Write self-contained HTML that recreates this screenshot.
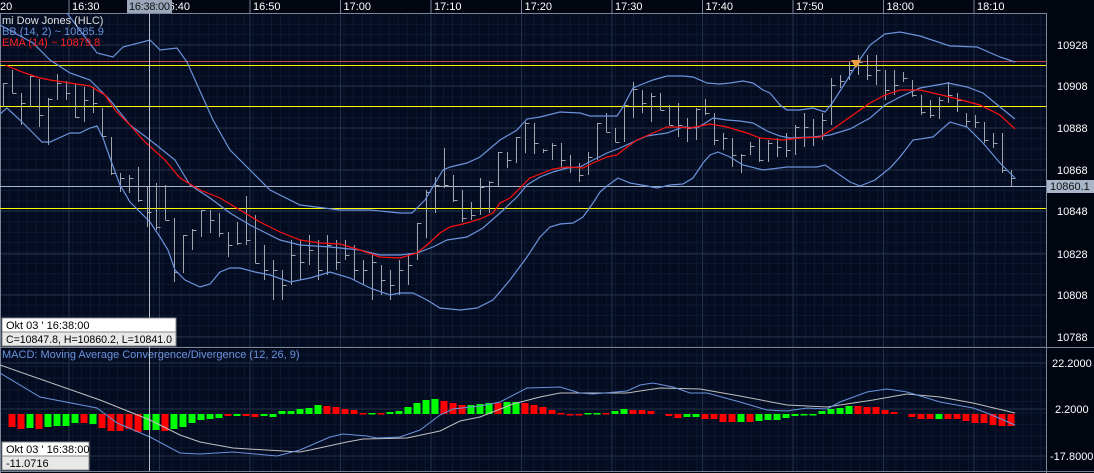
<!DOCTYPE html>
<html><head><meta charset="utf-8"><style>
html,body{margin:0;padding:0;background:#000;}
svg{display:block;font-family:"Liberation Sans",sans-serif;}
</style></head><body>
<svg id="s" width="1094" height="473" xmlns="http://www.w3.org/2000/svg">
<rect x="0" y="0" width="1094" height="473" fill="#000510"/>
<rect x="0" y="14" width="1046" height="333" fill="#030c20"/>
<rect x="0" y="349" width="1046" height="122" fill="#030c20"/>
<g id="grid"></g>
<g id="plot"></g>
</svg>
<script>
const NS="http://www.w3.org/2000/svg";
const S=document.getElementById('s'),G=document.getElementById('grid'),P=document.getElementById('plot');
function el(t,a,p,txt){if(typeof p==='string'){txt=p;p=null;}const e=document.createElementNS(NS,t);for(const k in a)e.setAttribute(k,a[k]);if(txt!==undefined)e.textContent=txt;(p||P).appendChild(e);return e;}
for(let x=0;x<1046;x+=9.05){el('line',{x1:x,y1:14,x2:x,y2:347,stroke:'#0e1830','stroke-width':1},G);el('line',{x1:x,y1:349,x2:x,y2:471,stroke:'#0e1830','stroke-width':1},G);}
for(let y=24.2;y<347;y+=10.4){el('line',{x1:0,y1:y,x2:1046,y2:y,stroke:'#0e1830'},G);}
for(let y=355;y<471;y+=11.6){el('line',{x1:0,y1:y,x2:1046,y2:y,stroke:'#0e1830'},G);}
const vmaj=[];for(let k=-1;k<12;k++)vmaj.push(69+90.5*k);
vmaj.forEach(x=>{if(x>0&&x<1046){el('line',{x1:x,y1:14,x2:x,y2:347,stroke:'#253149'},G);el('line',{x1:x,y1:349,x2:x,y2:471,stroke:'#253149'},G);}});
[45,86,128,170,211,254,295,337].forEach(y=>el('line',{x1:0,y1:y,x2:1046,y2:y,stroke:'#253149'},G));
[363,409,456].forEach(y=>el('line',{x1:0,y1:y,x2:1046,y2:y,stroke:'#253149'},G));
el('line',{x1:0,y1:13.5,x2:1046,y2:13.5,stroke:'#7a8498'});
el('line',{x1:1046.5,y1:13,x2:1046.5,y2:473,stroke:'#7a8498'});
el('line',{x1:0,y1:347.5,x2:1094,y2:347.5,stroke:'#7a8498'});
el('line',{x1:0,y1:471.5,x2:1094,y2:471.5,stroke:'#7a8498'});
el('line',{x1:0.5,y1:13,x2:0.5,y2:473,stroke:'#7a8498'});
const tl=['16:30','16:40','16:50','17:00','17:10','17:20','17:30','17:40','17:50','18:00','18:10'];
el('text',{x:0,y:10,fill:'#fff','font-size':11},'20');
tl.forEach((t,i)=>{const x=69+90.5*i;el('line',{x1:x,y1:0,x2:x,y2:13,stroke:'#7a8498'});el('text',{x:x+3,y:10,fill:'#fff','font-size':11},t);});
el('rect',{x:127,y:0,width:45,height:13,fill:'#9aa6ba'});
el('text',{x:129,y:10,fill:'#111','font-size':11,textLength:41},'16:38:00');
[['10928',45],['10908',86],['10888',128],['10868',170],['10848',211],['10828',254],['10808',295],['10788',337]].forEach(a=>el('text',{x:1057,y:a[1]+4,fill:'#fff','font-size':11},a[0]));
[['22.2000',363,1052],['2.2000',409,1055],['-17.8000',456,1050]].forEach(a=>el('text',{x:a[2],y:a[1]+4,fill:'#fff','font-size':11},a[0]));
el('line',{x1:0,y1:61.5,x2:1046,y2:61.5,stroke:'#c04848'});
el('line',{x1:0,y1:65.5,x2:1046,y2:65.5,stroke:'#ffff00'});
el('line',{x1:0,y1:106.5,x2:1046,y2:106.5,stroke:'#ffff00'});
el('line',{x1:0,y1:208.5,x2:1046,y2:208.5,stroke:'#ffff00'});
el('line',{x1:0,y1:186.5,x2:1046,y2:186.5,stroke:'#a8b4c8'});
const B=[[83,107,83],[70,93,93],[93,125,103],[76,107,76],[79,127,115],[98,145,99],[74,100,83],[81,100,93],[84,118,117],[87,122,100],[87,113,103],[108,137,136],[137,175,173],[173,192,178],[175,193,178],[167,202,200],[187,227,212],[183,230,227],[185,220,220],[218,282,272],[235,273,235],[229,250,230],[210,237,210],[210,233,220],[213,237,233],[232,257,245],[222,245,243],[196,245,240],[215,263,263],
[245,280,270],[260,300,270],[270,300,285],[240,285,255],[240,280,262],[235,265,250],[240,280,270],[235,275,245],[240,270,262],[240,260,255],[245,280,270],[260,285,270],[255,300,262],[265,295,280],[270,300,285],[260,295,270],
[253,285,265],[223,260,223],[190,238,192],[177,213,185],[148,188,185],[175,202,200],[190,222,218],[202,220,215],[178,215,187],[181,213,182],[152,187,152],[152,168,160],[137,163,137],[122,153,123],[123,154,143],[149,153,150],[143,160,145],[143,167,160],[155,173,167],[163,182,175],[152,175,157],[123,160,123],[113,132,132],[128,142,142],[103,142,105],[82,118,89],[90,113,103],[93,122,96],[93,110,110],[105,125,125],[103,137,125],[118,142,128],[108,140,109],[99,115,113],[113,145,140],[133,150,138],[138,167,155],[154,173,155],[142,155,146],[138,162,160],[140,162,143],[138,157,147],[133,157,150],[125,155,127],[113,147,127],[119,146,137],[113,140,120],[78,125,85],[75,88,81],[62,80,70],[55,75,62],[55,80,75],[55,85,70],[70,100,90],[70,95,85],
[72,82,78],[80,97,95],[95,115,112],[100,118,115],[97,119,100],[82,103,95],[93,112,100],[113,127,121],[115,128,122],[122,143,140],[133,148,143],[133,173,170],[170,186,178]];
B.forEach((b,i)=>{const x=3+9*i+0.5;el('line',{x1:x,y1:b[0],x2:x,y2:b[1],stroke:'#a0a4ac'});el('line',{x1:x,y1:b[2]+0.5,x2:x+4,y2:b[2]+0.5,stroke:'#a0a4ac'});});
function pl(pts,c,w,p){el('polyline',{points:pts.map(a=>a.join(',')).join(' '),fill:'none',stroke:c,'stroke-width':w||1.2},p);}
const blue='#6c93dd';
pl([[67,13],[97,53],[113,57],[123,47],[150,40],[160,50],[177,48],[187,62],[213,120],[230,150],[250,170],[270,190],[300,205],[340,210],[370,210],[400,213],[412,213],[425,200],[443,170],[450,167],[467,163],[480,157],[500,140],[517,130],[527,119],[540,117],[560,112],[580,113],[590,116],[617,116],[623,107],[633,88],[640,85],[653,80],[667,76],[683,76],[693,77],[707,83],[720,84],[730,83],[743,81],[753,83],[763,90],[770,93],[780,105],[787,110],[800,110],[813,108],[825,112],[833,102],[847,80],[858,62],[870,45],[885,34],[900,32],[920,36],[950,46],[977,47],[1000,57],[1015,62]],blue);
pl([[0,25],[33,43],[50,60],[70,73],[90,80],[110,100],[130,125],[150,140],[175,160],[190,185],[210,198],[230,213],[250,225],[260,230],[280,240],[300,245],[330,247],[360,250],[380,255],[400,255],[417,253],[433,247],[447,240],[467,237],[483,228],[500,213],[517,197],[527,185],[540,177],[553,172],[567,168],[580,167],[593,160],[607,153],[620,148],[633,142],[647,136],[667,133],[683,127],[697,128],[707,122],[713,118],[727,120],[740,121],[753,123],[767,131],[780,136],[790,138],[813,137],[830,135],[840,132],[850,129],[870,118],[885,105],[900,97],[920,88],[948,83],[967,87],[983,93],[1000,107],[1015,119]],blue);
pl([[0,114],[7,108],[20,120],[27,127],[35,135],[42,142],[50,142],[70,133],[80,133],[90,128],[97,126],[103,138],[110,158],[120,185],[130,202],[140,212],[150,222],[160,237],[168,250],[175,270],[185,280],[200,287],[210,284],[220,272],[230,268],[240,268],[255,272],[270,275],[290,282],[310,278],[330,272],[350,278],[370,288],[390,295],[400,293],[413,293],[427,300],[440,308],[460,310],[477,308],[493,300],[510,280],[527,257],[540,237],[550,227],[560,224],[573,223],[583,217],[593,203],[600,192],[607,186],[618,178],[630,183],[647,186],[657,188],[670,185],[683,184],[693,178],[703,163],[710,155],[718,152],[730,157],[743,165],[763,170],[787,167],[817,167],[825,165],[837,173],[850,182],[860,186],[875,180],[890,168],[900,157],[913,140],[933,137],[950,122],[967,127],[983,143],[1000,163],[1015,178]],blue);
pl([[5,65],[25,73],[40,78],[50,80],[70,83],[90,86],[105,95],[115,110],[130,125],[145,142],[165,160],[180,178],[200,190],[220,198],[240,210],[260,222],[280,232],[300,240],[320,243],[340,244],[360,250],[380,257],[400,258],[417,253],[427,245],[440,233],[450,227],[467,223],[480,219],[493,213],[500,203],[510,198],[523,185],[530,178],[543,173],[553,169],[567,167],[583,168],[593,163],[607,157],[617,155],[627,147],[637,140],[653,133],[667,127],[677,127],[690,128],[700,126],[710,124],[727,127],[747,133],[760,138],[783,140],[800,138],[820,137],[833,129],[850,117],[870,103],[885,95],[900,90],[920,90],[950,97],[980,105],[1000,115],[1015,129]],'#ff1010');
el('polygon',{points:'851,60 861,60 856,68',fill:'#f0a040'});
el('rect',{x:1047,y:180,width:47,height:13,fill:'#a9b5c8'});
el('text',{x:1050,y:190,fill:'#111','font-size':11},'10860.1');
el('text',{x:2,y:24,fill:'#e0e0e0','font-size':11},'mi Dow Jones (HLC)');
el('text',{x:2,y:35,fill:'#6c93dd','font-size':11},'BB (14, 2) ~ 10885.9');
el('text',{x:2,y:46,fill:'#ff2020','font-size':11},'EMA (14) ~ 10879.8');
const H=[['r',-13],['r',-15],['g',-14],['r',-15],['g',-13],['g',-12],['g',-12],['g',-9],['r',-9],['g',-10],['r',-14],['r',-17],['r',-17],['r',-15],['r',-18],['g',-16],['g',-16],['r',-17],['g',-15],['g',-13],['g',-9],['g',-6],['g',-5],['g',-4],['r',-2],['g',-2],['r',-2],['r',-3],['g',-2],['g',-3],['g',3],['g',3],['g',5],['g',6],['g',9],['r',8],['r',7],['r',5],['r',4],['r',1],['g',1],['r',1],['g',2],['g',3],['g',7],['g',11],['g',14],['g',15],['r',13],['r',11],['r',9],['g',9],['g',10],['g',11],['r',11],['g',12],['g',12],['r',11],['r',9],['r',7],['r',4],['r',1],['r',-1],['r',-1],['g',1],['g',1],['r',1],['g',3],['g',5],['r',4],['r',4],['r',3],null,['r',-2],['r',-4],['g',-3],['g',-3],['r',-5],['r',-5],['r',-8],['r',-8],['g',-8],['r',-8],['g',-7],['g',-6],['g',-6],['g',-4],['g',-2],['g',-1],['g',-1],['g',3],['g',5],['g',6],['g',8],['r',8],['r',7],['r',7],['r',4],['r',2],null,['r',-3],['r',-5],['r',-5],['g',-5],['r',-5],['r',-5],['r',-7],['r',-9],['r',-9],['r',-11],['r',-12],['r',-12]];
const off=113-H.length;
H.forEach((h,i)=>{if(!h)return;const x=3+9*(i+off)-3.5;const v=h[1];const y=v>0?414-v:414;el('rect',{x:x,y:y,width:7,height:Math.max(1.5,Math.abs(v)),fill:h[0]=='r'?'#ff0000':'#00ff00'});});
pl([[0,365],[100,400],[150,420],[180,435],[200,442],[233,448],[300,452],[310,450],[347,442],[363,439],[407,438],[440,431],[460,421],[480,417],[513,404],[540,397],[560,393],[627,393],[660,388],[700,389],[740,396],[787,405],[827,407],[873,400],[907,394],[940,397],[973,403],[1015,413]],'#c0c0c0',1);
pl([[0,373],[40,397],[97,408],[117,423],[150,437],[180,453],[200,454],[233,452],[277,456],[300,450],[330,437],[343,434],[367,436],[377,438],[400,437],[420,430],[440,415],[453,409],[480,406],[500,402],[527,388],[560,387],[580,393],[593,394],[627,391],[640,385],[653,383],[673,387],[690,393],[707,393],[740,402],[767,410],[787,411],[807,408],[827,409],[840,402],[867,392],[887,389],[907,392],[927,398],[940,402],[973,408],[987,413],[1015,425]],blue,1);
el('text',{x:2,y:358,fill:'#6c93dd','font-size':11},'MACD: Moving Average Convergence/Divergence (12, 26, 9)');
el('line',{x1:149.5,y1:13,x2:149.5,y2:471,stroke:'#b8c0d0'});
el('rect',{x:2,y:318,width:174,height:14,fill:'#fff',stroke:'#888'});
el('rect',{x:2,y:332,width:174,height:14,fill:'#e8e8e8',stroke:'#888'});
el('text',{x:6,y:329,fill:'#000','font-size':11},"Okt 03 ' 16:38:00");
el('text',{x:6,y:343,fill:'#000','font-size':11,textLength:166,lengthAdjust:'spacingAndGlyphs'},'C=10847.8, H=10860.2, L=10841.0');
el('rect',{x:2,y:442,width:87,height:14,fill:'#fff',stroke:'#888'});
el('rect',{x:2,y:456,width:87,height:14,fill:'#e8e8e8',stroke:'#888'});
el('text',{x:6,y:453,fill:'#000','font-size':11},"Okt 03 ' 16:38:00");
el('text',{x:6,y:467,fill:'#000','font-size':11},'-11.0716');
</script>
</body></html>
